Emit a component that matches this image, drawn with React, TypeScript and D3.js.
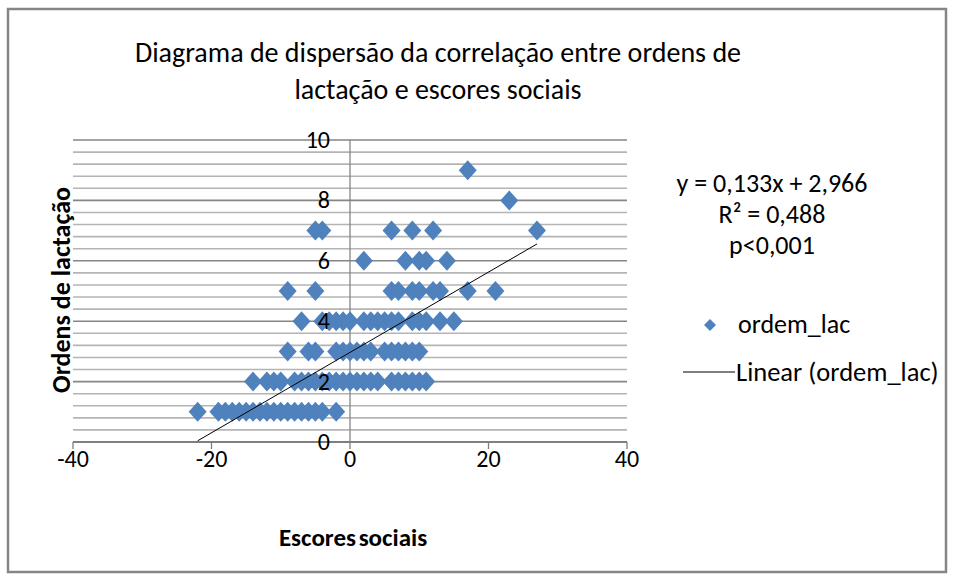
import * as d3 from "d3";
import { useEffect, useRef } from "react";

// ordem_lac values (y) and the social scores (x) that sit on each row
const row1 = [-22, -19, -18, -17, -16, -15, -14, -13, -12, -11, -10, -9, -8, -7, -6, -5, -4, -2];
const row2 = [-14, -12, -11, -10, -8, -7, -6, -5, -4, -3, -2, -1, 0, 1, 2, 3, 4, 6, 7, 8, 9, 10, 11];
const row3 = [-9, -6, -5, -2, -1, 0, 1, 2, 3, 5, 6, 7, 8, 9, 10];
const row4 = [-7, -4, -3, -2, -1, 0, 2, 3, 4, 5, 6, 7, 9, 10, 11, 13, 15];
const row5 = [-9, -5, 6, 7, 9, 10, 12, 13, 17, 21];
const row6 = [2, 8, 10, 11, 14];
const row7 = [-5, -4, 6, 9, 12, 27];
const row8 = [23];
const row9 = [17];

const rows = [row1, row2, row3, row4, row5, row6, row7, row8, row9];

// trend line as printed on the chart
const slope = 0.133;
const intercept = 2.966;

const xTicks = [-40, -20, 0, 20, 40];
const yTicks = [0, 2, 4, 6, 8, 10];

const titleLines = ["Diagrama de dispersão da correlação entre ordens de", "lactação e escores sociais"];
const statLines = ["y = 0,133x + 2,966", "R² = 0,488", "p<0,001"];

const FONT = "Carlito, 'Liberation Sans', Arial, sans-serif";

export default function App() {
  const ref = useRef<SVGSVGElement>(null);

  useEffect(() => {
    const svg = d3.select(ref.current);
    svg.selectAll("*").remove();

    const width = 954;
    const height = 578;

    const x = d3.scaleLinear().domain([-40, 40]).range([73, 627]);
    const y = d3.scaleLinear().domain([0, 10]).range([442, 140]);

    const points = rows.flatMap((xs, i) => xs.map((v) => ({ x: v, y: i + 1 })));

    svg.append("rect").attr("width", width).attr("height", height).attr("fill", "#fff");
    svg
      .append("rect")
      .attr("x", 8)
      .attr("y", 9)
      .attr("width", 938)
      .attr("height", 563)
      .attr("fill", "none")
      .attr("stroke", "#868686")
      .attr("stroke-width", 2.5);

    // gridlines every 0.4, darker on the labelled values
    const grid = d3.range(0, 26).map((i) => +(i * 0.4).toFixed(1));
    const isMajor = (d: number) => Math.abs(d / 2 - Math.round(d / 2)) < 1e-6;
    svg
      .append("g")
      .selectAll("line")
      .data(grid)
      .join("line")
      .attr("x1", x(-40))
      .attr("x2", x(40))
      .attr("y1", (d) => y(d))
      .attr("y2", (d) => y(d))
      .attr("stroke", (d) => (isMajor(d) ? "#868686" : "#b4b4b4"))
      .attr("stroke-width", 1.6);

    // vertical axis at x = 0
    svg
      .append("line")
      .attr("x1", x(0))
      .attr("x2", x(0))
      .attr("y1", y(10))
      .attr("y2", y(0))
      .attr("stroke", "#868686")
      .attr("stroke-width", 1.3);

    // x axis
    const xAxis = svg.append("g").attr("transform", `translate(0,${y(0)})`);
    xAxis
      .append("line")
      .attr("x1", x(-40))
      .attr("x2", x(40))
      .attr("stroke", "#7f7f7f")
      .attr("stroke-width", 2);
    xAxis
      .selectAll("line.tick")
      .data(xTicks)
      .join("line")
      .attr("class", "tick")
      .attr("x1", (d) => x(d))
      .attr("x2", (d) => x(d))
      .attr("y1", 0)
      .attr("y2", 7)
      .attr("stroke", "#7f7f7f")
      .attr("stroke-width", 1.3);
    xAxis
      .selectAll("text")
      .data(xTicks)
      .join("text")
      .attr("x", (d) => x(d))
      .attr("y", 25)
      .attr("text-anchor", "middle")
      .attr("font-family", FONT)
      .attr("font-size", 24)
      .attr("fill", "#000")
      .text((d) => String(d));

    // points
    const diamond = "M0,-10L9,0L0,10L-9,0Z";
    svg
      .append("g")
      .selectAll("path")
      .data(points)
      .join("path")
      .attr("transform", (d) => `translate(${x(d.x)},${y(d.y)})`)
      .attr("d", diamond)
      .attr("fill", "#4f81bd");

    // trend line over the data range
    const [xmin, xmax] = d3.extent(points, (d) => d.x) as [number, number];
    const line = d3
      .line<number>()
      .x((d) => x(d))
      .y((d) => y(slope * d + intercept));
    svg
      .append("path")
      .datum([xmin, xmax])
      .attr("d", line)
      .attr("fill", "none")
      .attr("stroke", "#000")
      .attr("stroke-width", 1);

    // y tick labels, left of the x = 0 axis, drawn over the markers
    svg
      .append("g")
      .selectAll("text")
      .data(yTicks)
      .join("text")
      .attr("x", x(0) - 20)
      .attr("y", (d) => y(d) + 8)
      .attr("text-anchor", "end")
      .attr("font-family", FONT)
      .attr("font-size", 24)
      .attr("fill", "#000")
      .text((d) => String(d));

    // title
    svg
      .append("g")
      .selectAll("text")
      .data(titleLines)
      .join("text")
      .attr("x", 438)
      .attr("y", (_, i) => 62 + i * 37)
      .attr("text-anchor", "middle")
      .attr("font-family", FONT)
      .attr("font-size", 28)
      .attr("fill", "#000")
      .text((d) => d);

    // axis titles
    svg
      .append("text")
      .attr("x", 353)
      .attr("y", 546)
      .attr("text-anchor", "middle")
      .attr("font-family", FONT)
      .attr("font-size", 25)
      .attr("font-weight", "bold")
      .attr("word-spacing", -3)
      .text("Escores sociais");
    svg
      .append("text")
      .attr("transform", "translate(70,290) rotate(-90)")
      .attr("text-anchor", "middle")
      .attr("font-family", FONT)
      .attr("font-size", 26)
      .attr("font-weight", "bold")
      .text("Ordens de lactação");

    // regression stats
    svg
      .append("g")
      .selectAll("text")
      .data(statLines)
      .join("text")
      .attr("x", 772)
      .attr("y", (_, i) => 192 + i * 31)
      .attr("text-anchor", "middle")
      .attr("font-family", FONT)
      .attr("font-size", 26)
      .text((d) => d);

    // legend
    const legend = svg.append("g");
    legend
      .append("path")
      .attr("transform", "translate(710,325)")
      .attr("d", "M0,-6L6,0L0,6L-6,0Z")
      .attr("fill", "#4f81bd");
    legend
      .append("text")
      .attr("x", 738)
      .attr("y", 333)
      .attr("font-family", FONT)
      .attr("font-size", 26)
      .text("ordem_lac");
    legend
      .append("line")
      .attr("x1", 683)
      .attr("x2", 735)
      .attr("y1", 372)
      .attr("y2", 372)
      .attr("stroke", "#000")
      .attr("stroke-width", 1);
    legend
      .append("text")
      .attr("x", 736)
      .attr("y", 381)
      .attr("font-family", FONT)
      .attr("font-size", 26.5)
      .text("Linear (ordem_lac)");
  }, []);

  return (
    <svg
      ref={ref}
      width={954}
      height={578}
      style={{ position: "absolute", left: 0, top: 0 }}
    />
  );
}
